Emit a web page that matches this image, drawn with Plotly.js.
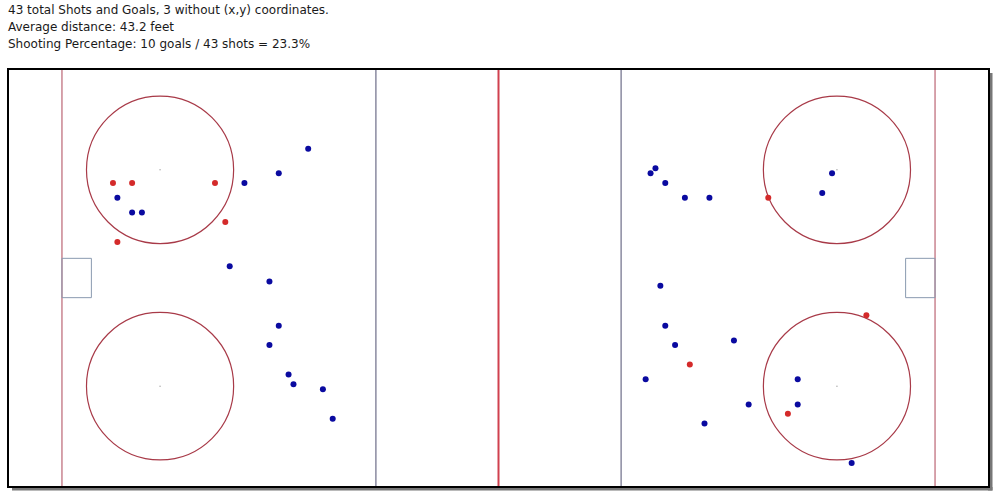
<!DOCTYPE html>
<html>
<head>
<meta charset="utf-8">
<script src="https://cdn.plot.ly/plotly-3.0.1.min.js"></script>
<style>
html,body{margin:0;padding:0;background:#fff;}
#chart{width:1000px;height:497px;}
</style>
</head>
<body>
<div id="chart"></div>
<script>
// Shot data in feet (rink centre = 0,0)
const shotX = [-38.8,-44.8,-51.8,-77.7,-74.7,-72.7,-54.8,-46.7,-44.8,-46.7,-42.8,-41.8,-35.8,-33.8,
               32,31,34,38,43,68,66,33,34,36,48,30,61,51,61,42,72];
const shotY = [26.3,21.3,19.3,16.3,13.3,13.3,2.4,-0.7,-9.7,-13.6,-19.6,-21.6,-22.6,-28.6,
               22.3,21.3,19.3,16.3,16.3,21.3,17.3,-1.6,-9.7,-13.6,-12.7,-20.6,-20.6,-25.7,-25.7,-29.6,-37.6];
const goalX = [-78.6,-74.7,-57.8,-55.7,-77.7, 55,75,39,59];
const goalY = [19.3,19.3,19.3,11.4,7.3, 16.3,-7.6,-17.6,-27.6];

// Rink geometry (feet)
const rinkHalfLength = 100, rinkHalfWidth = 42.5;
const goalLineX = [-89, 89];
const blueLineX = [-25, 25];
const centerLineX = [0];
const faceoffX = [-69, -69, 69, 69];
const faceoffY = [22, -22, 22, -22];
const faceoffR = 15;
const creases = [[-89,-83],[83,89]];
const creaseHalf = 4;

const infoLines = [
  "43 total Shots and Goals, 3 without (x,y) coordinates.",
  "Average distance: 43.2 feet",
  "Shooting Percentage: 10 goals / 43 shots = 23.3%"
];

const shapes = [];
goalLineX.forEach(x => shapes.push({type:'line', xref:'x', yref:'y', x0:x, x1:x, y0:-rinkHalfWidth, y1:rinkHalfWidth, line:{color:'#c98490', width:1.5}, layer:'below'}));
blueLineX.forEach(x => shapes.push({type:'line', xref:'x', yref:'y', x0:x, x1:x, y0:-rinkHalfWidth, y1:rinkHalfWidth, line:{color:'#8a8aa0', width:1.5}, layer:'below'}));
centerLineX.forEach(x => shapes.push({type:'line', xref:'x', yref:'y', x0:x, x1:x, y0:-rinkHalfWidth, y1:rinkHalfWidth, line:{color:'#d0404e', width:2}, layer:'below'}));
faceoffX.forEach((x,i) => shapes.push({type:'circle', xref:'x', yref:'y', x0:x-faceoffR, x1:x+faceoffR, y0:faceoffY[i]-faceoffR, y1:faceoffY[i]+faceoffR, line:{color:'#a83a48', width:1.2}, layer:'below'}));
creases.forEach(c => shapes.push({type:'rect', xref:'x', yref:'y', x0:c[0], x1:c[1], y0:-creaseHalf, y1:creaseHalf, line:{color:'#8a9ab0', width:1}, layer:'below'}));

// border + drop shadow (paper coords)
const pw = 981, ph = 418;
function px2x(p){ return (p-8)/pw; }
function py2y(p){ return 1-(p-69)/ph; }
shapes.push({type:'rect', xref:'paper', yref:'paper', x0:px2x(988), x1:px2x(992.5), y0:py2y(490.5), y1:py2y(73), fillcolor:'#777', line:{width:0}});
shapes.push({type:'rect', xref:'paper', yref:'paper', x0:px2x(12), x1:px2x(992.5), y0:py2y(490.5), y1:py2y(487), fillcolor:'#777', line:{width:0}});
shapes.push({type:'rect', xref:'paper', yref:'paper', x0:0, x1:1, y0:0, y1:1, line:{color:'#000', width:2}});

const traces = [
  {x: shotX, y: shotY, type:'scatter', mode:'markers', marker:{color:'#0a0aa0', size:6}, hoverinfo:'skip'},
  {x: goalX, y: goalY, type:'scatter', mode:'markers', marker:{color:'#d42a2a', size:6}, hoverinfo:'skip'},
  {x: faceoffX, y: faceoffY, type:'scatter', mode:'markers', marker:{color:'#aaa', size:1.5}, hoverinfo:'skip'}
];

const lineCenters = [10, 27, 44];
const annotations = infoLines.map((t,i) => ({
  xref:'paper', yref:'paper', x:px2x(6), y:py2y(lineCenters[i]), xanchor:'left', yanchor:'middle',
  align:'left', showarrow:false, text:t,
  font:{family:'DejaVu Sans', size:12, color:'#1a1a1a'}
}));

const layout = {
  width:1000, height:497,
  margin:{l:8, r:11, t:69, b:10},
  paper_bgcolor:'#fff', plot_bgcolor:'#fff',
  showlegend:false,
  xaxis:{range:[-rinkHalfLength, rinkHalfLength], visible:false, fixedrange:true},
  yaxis:{range:[-rinkHalfWidth, rinkHalfWidth], visible:false, fixedrange:true},
  shapes: shapes,
  annotations: annotations
};

Plotly.newPlot('chart', traces, layout, {staticPlot:true, displayModeBar:false});
</script>
</body>
</html>
